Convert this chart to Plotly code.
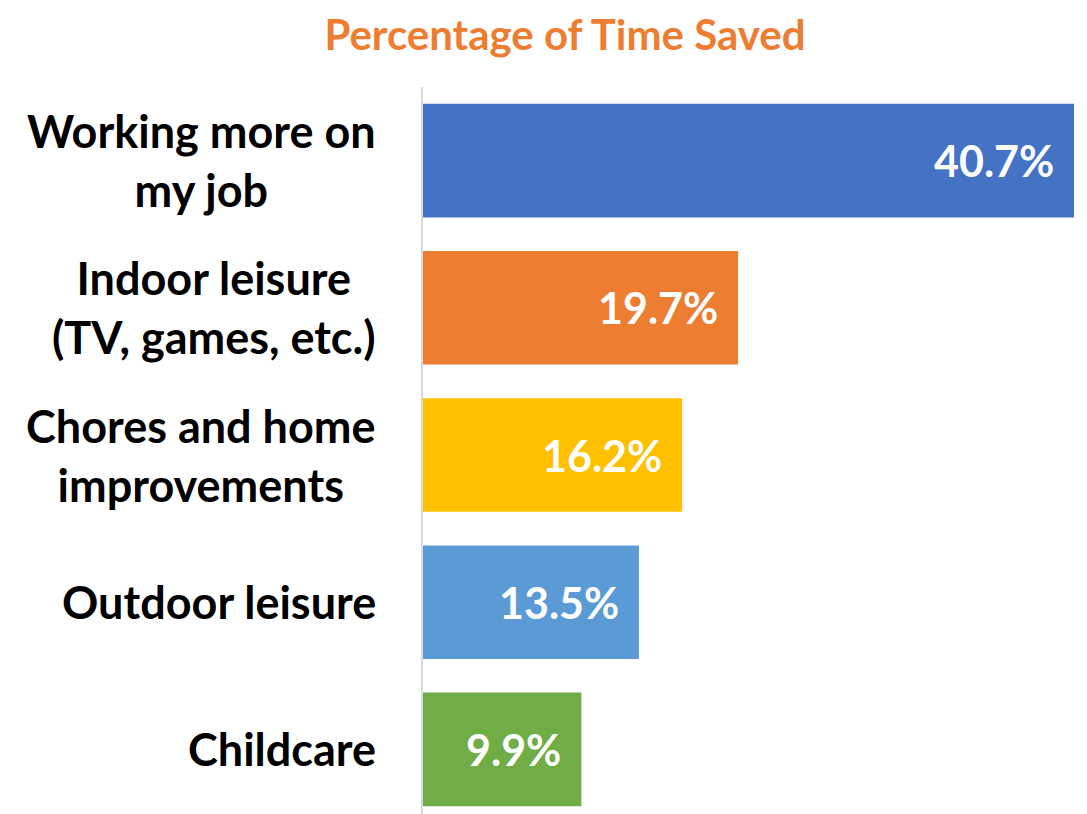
import plotly.graph_objects as go

categories = ["Working more on<br>my job", "Indoor leisure<br>(TV, games, etc.)",
              "Chores and home<br>improvements", "Outdoor leisure", "Childcare"]
values = [40.7, 19.7, 16.2, 13.5, 9.9]
labels = ["40.7%", "19.7%", "16.2%", "13.5%", "9.9%"]
colors = ["#4472C4", "#ED7D31", "#FFC000", "#5B9BD5", "#70AD47"]

FONT = "Lato"
OFF = 8  # default page body margin
W, H = 1087 - OFF, 814 - OFF
top, bottom = 87 - OFF, 0
left, right = 423 - OFF, 13

fig = go.Figure(go.Bar(
    x=values, y=list(range(len(categories))), orientation="h",
    marker=dict(color=colors, line=dict(width=0)),
    width=0.772, hoverinfo="skip",
))

ann = []
for i, (c, v, t) in enumerate(zip(categories, values, labels)):
    ann.append(dict(x=0, xref="paper", y=i, yref="y", text=c, showarrow=False,
                    xanchor="right", yanchor="middle", xshift=-45, align="center",
                    font=dict(family=FONT, size=45, color="#000000", weight="bold")))
    ann.append(dict(x=v, xref="x", y=i, yref="y", text=t, showarrow=False,
                    xanchor="right", yanchor="middle", xshift=-18,
                    font=dict(family=FONT, size=43, color="#FFFFFF", weight="bold")))

band = 147.2
span = (H - top - bottom) / band

fig.update_layout(
    width=W, height=H,
    margin=dict(l=left, r=right, t=top, b=bottom, pad=0),
    paper_bgcolor="white", plot_bgcolor="white",
    showlegend=False,
    title=dict(text="Percentage of Time Saved", x=(565 - OFF) / W, xanchor="center",
               y=1 - (35 - OFF) / H, yanchor="middle",
               font=dict(family=FONT, size=42, color="#ED7D31", weight="bold")),
    xaxis=dict(range=[0, 40.7], visible=False, fixedrange=True),
    yaxis=dict(range=[-0.5 + span, -0.5], showticklabels=False, showgrid=False,
               zeroline=False, showline=True, linecolor="#D9D9D9", linewidth=2,
               ticks="", fixedrange=True),
    annotations=ann,
)

fig.write_html("out.html")
